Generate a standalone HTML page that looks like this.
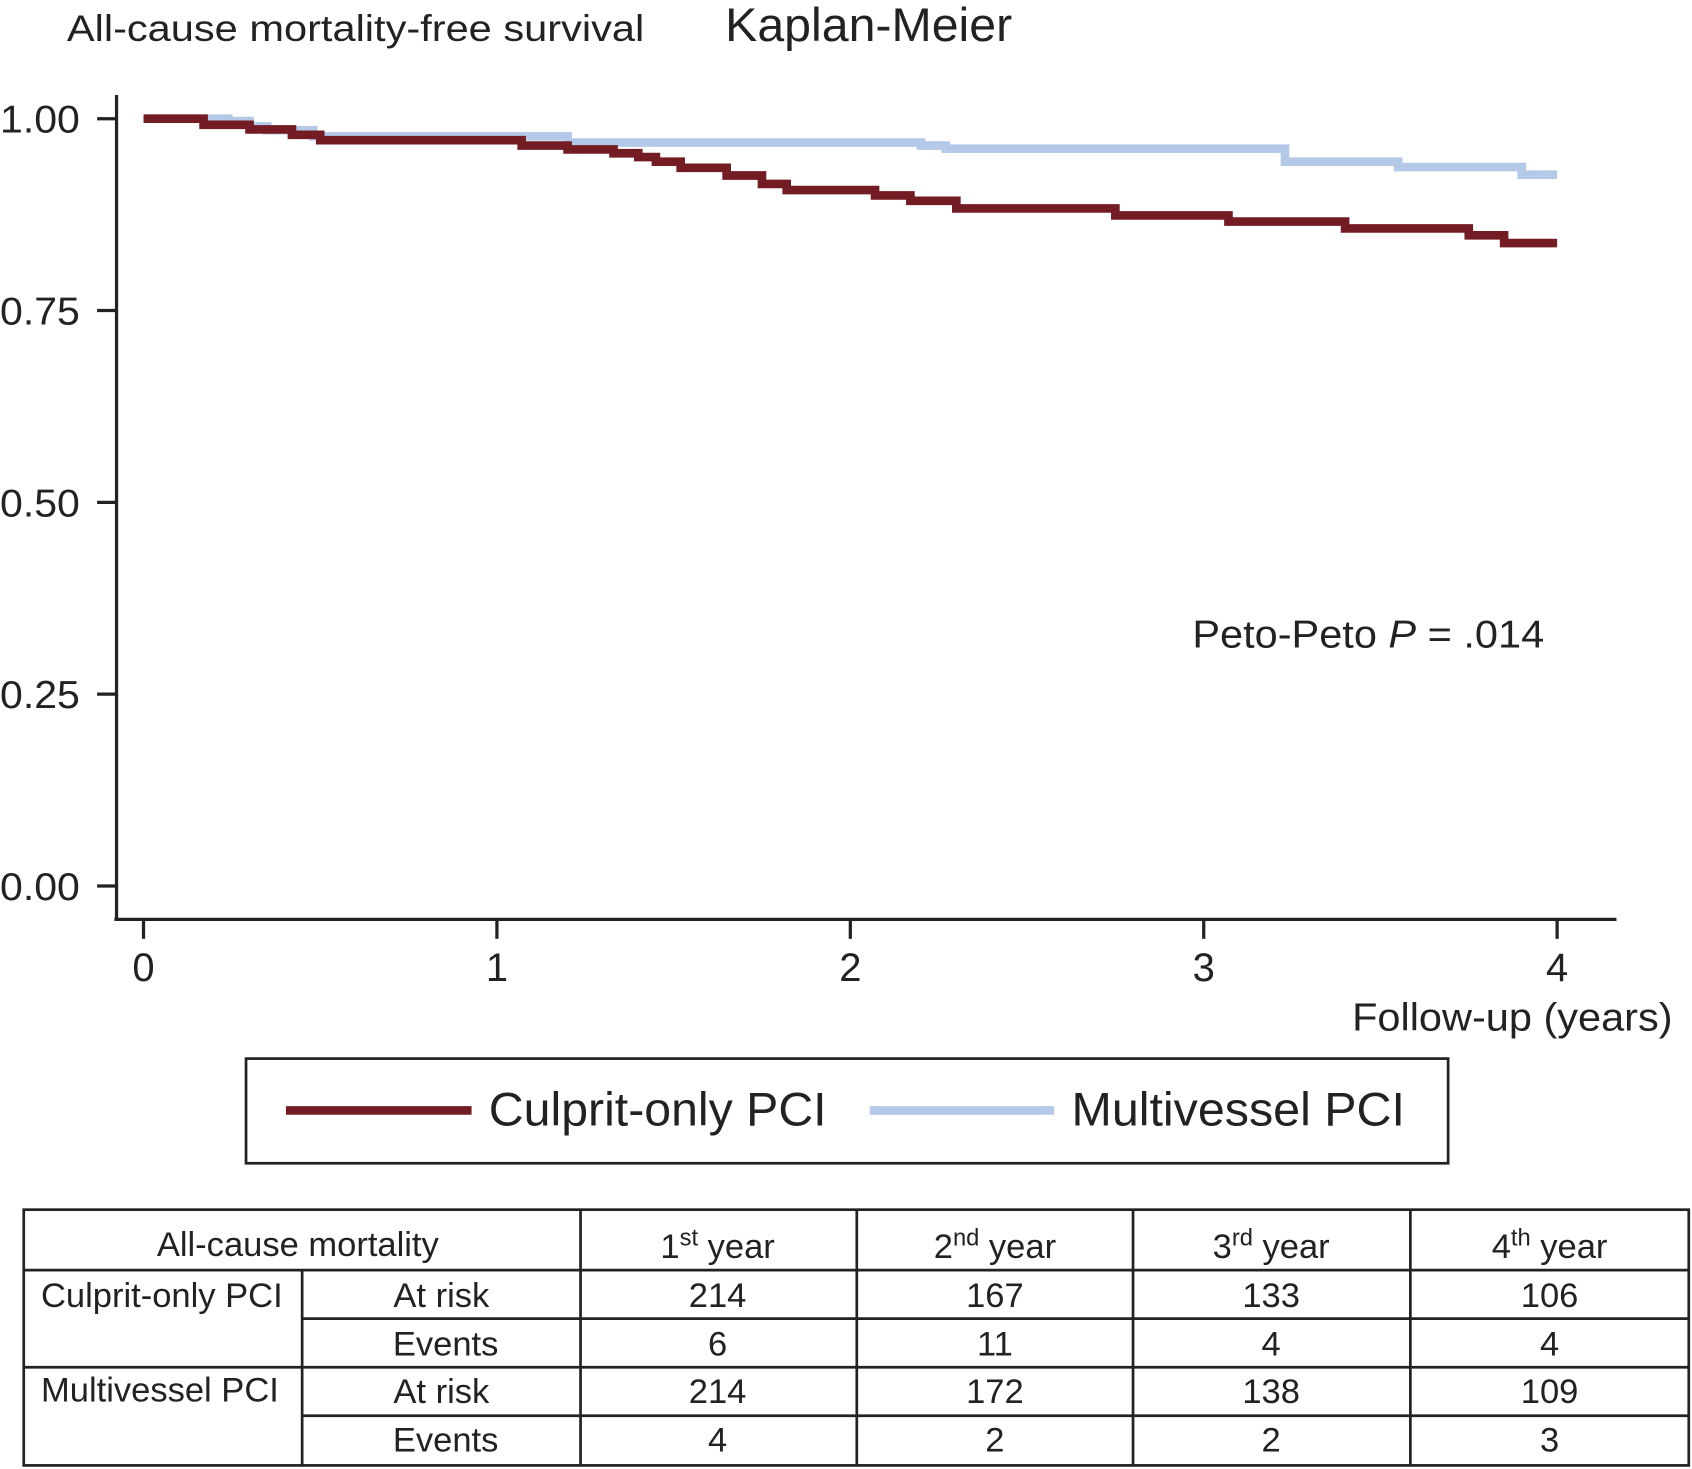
<!DOCTYPE html>
<html><head><meta charset="utf-8"><style>
html,body{margin:0;padding:0;background:#fff;}
svg{display:block;font-family:"Liberation Sans",Arial,sans-serif;}
</style></head><body>
<svg id="chart" width="1692" height="1469" viewBox="0 0 1568 1361.3">
<text x="62" y="38" font-size="34" textLength="535" lengthAdjust="spacingAndGlyphs" fill="#222">All-cause mortality-free survival</text>
<text x="672" y="38" font-size="44" textLength="266" lengthAdjust="spacingAndGlyphs" fill="#222">Kaplan-Meier</text>
<g id="axes"></g>
<g id="series"></g>
<text x="1105" y="600" font-size="36" textLength="326" lengthAdjust="spacingAndGlyphs" fill="#222">Peto-Peto <tspan font-style="italic">P</tspan> = .014</text>
<text x="1253" y="955" font-size="36" textLength="297" lengthAdjust="spacingAndGlyphs" fill="#222">Follow-up (years)</text>
<g>
<rect x="228" y="981" width="1114" height="97" fill="none" stroke="#222" stroke-width="2.5"/>
<line x1="265" y1="1029" x2="437" y2="1029" stroke="#731c24" stroke-width="8"/>
<text x="453" y="1043" font-size="44" textLength="313" lengthAdjust="spacingAndGlyphs" fill="#222">Culprit-only PCI</text>
<line x1="806" y1="1029" x2="977" y2="1029" stroke="#b4c8e8" stroke-width="8"/>
<text x="993" y="1043" font-size="44" textLength="309" lengthAdjust="spacingAndGlyphs" fill="#222">Multivessel PCI</text>
</g>
<g stroke="#222" stroke-width="2.5" fill="none">
<rect x="22" y="1121" width="1543" height="237"/>
<line x1="22" y1="1177" x2="1565" y2="1177"/>
<line x1="280" y1="1222" x2="1565" y2="1222"/>
<line x1="22" y1="1267" x2="1565" y2="1267"/>
<line x1="280" y1="1312" x2="1565" y2="1312"/>
<line x1="280" y1="1177" x2="280" y2="1358"/>
<line x1="538" y1="1121" x2="538" y2="1358"/>
<line x1="794" y1="1121" x2="794" y2="1358"/>
<line x1="1050" y1="1121" x2="1050" y2="1358"/>
<line x1="1307" y1="1121" x2="1307" y2="1358"/>
</g>
<g font-size="32" fill="#222" text-anchor="middle">
<text x="276" y="1164">All-cause mortality</text>
<text x="665" y="1166">1<tspan font-size="22" dy="-12">st</tspan><tspan dy="12"> year</tspan></text>
<text x="922" y="1166">2<tspan font-size="22" dy="-12">nd</tspan><tspan dy="12"> year</tspan></text>
<text x="1178" y="1166">3<tspan font-size="22" dy="-12">rd</tspan><tspan dy="12"> year</tspan></text>
<text x="1436" y="1166">4<tspan font-size="22" dy="-12">th</tspan><tspan dy="12"> year</tspan></text>
<text x="38" y="1211" text-anchor="start">Culprit-only PCI</text>
<text x="38" y="1299" text-anchor="start">Multivessel PCI</text>
<text x="409" y="1211">At risk</text><text x="413" y="1256">Events</text>
<text x="409" y="1300">At risk</text><text x="413" y="1345">Events</text>
<text x="665" y="1211">214</text><text x="922" y="1211">167</text><text x="1178" y="1211">133</text><text x="1436" y="1211">106</text>
<text x="665" y="1256">6</text><text x="922" y="1256">11</text><text x="1178" y="1256">4</text><text x="1436" y="1256">4</text>
<text x="665" y="1300">214</text><text x="922" y="1300">172</text><text x="1178" y="1300">138</text><text x="1436" y="1300">109</text>
<text x="665" y="1345">4</text><text x="922" y="1345">2</text><text x="1178" y="1345">2</text><text x="1436" y="1345">3</text>
</g>
</svg>
<script>
const xTicks = [0, 1, 2, 3, 4];
const yTicks = [0, 0.25, 0.5, 0.75, 1];
const yTickLabels = ["0.00", "0.25", "0.50", "0.75", "1.00"];
const culpritTimes = [0, 0.17, 0.3, 0.42, 0.5, 1.07, 1.2, 1.33, 1.4, 1.45, 1.52, 1.65, 1.75, 1.82, 2.07, 2.17, 2.3, 2.75, 3.07, 3.4, 3.75, 3.85];
const culpritSurv = [1, 0.992, 0.986, 0.979, 0.972, 0.965, 0.96, 0.955, 0.95, 0.944, 0.936, 0.926, 0.915, 0.907, 0.9, 0.893, 0.883, 0.874, 0.866, 0.857, 0.848, 0.838];
const multiTimes = [0, 0.24, 0.3, 0.35, 0.48, 1.2, 2.2, 2.27, 3.23, 3.55, 3.9];
const multiSurv = [1, 0.997, 0.99, 0.985, 0.977, 0.969, 0.965, 0.961, 0.944, 0.937, 0.927];
const endTime = 4;
const NS = "http://www.w3.org/2000/svg";
const X = t => 133 + t * 327.5;
const Y = s => 821 - s * 711;
function mk(tag, attrs, parent) {
  const e = document.createElementNS(NS, tag);
  for (const k in attrs) e.setAttribute(k, attrs[k]);
  parent.appendChild(e);
  return e;
}
const axes = document.getElementById('axes');
const yAxis = mk('line', {x1: 108, y1: 88, x2: 108, y2: 853, stroke: '#222', 'stroke-width': 3}, axes);


const xAxis = mk('line', {x1: 106, y1: 852, x2: 1498, y2: 852, stroke: '#222', 'stroke-width': 3}, axes);


yTicks.forEach((v, i) => {
  const tk = mk('line', {x1: 90, y1: Y(v), x2: 108, y2: Y(v), stroke: '#222', 'stroke-width': 3}, axes);
  
  
  const tl = mk('text', {x: 0, y: Y(v) + 13, 'font-size': 36, fill: '#222', textLength: 74, lengthAdjust: 'spacingAndGlyphs'}, axes);
  tl.textContent = yTickLabels[i];
  
  
});
xTicks.forEach(v => {
  const tk = mk('line', {x1: X(v), y1: 852, x2: X(v), y2: 870, stroke: '#222', 'stroke-width': 3}, axes);
  
  
  const tl = mk('text', {x: X(v), y: 909, 'font-size': 37, fill: '#222', 'text-anchor': 'middle'}, axes);
  tl.textContent = String(v);
  
  
});
function stepPath(ts, ss) {
  let d = 'M' + X(ts[0]) + ',' + Y(ss[0]);
  for (let i = 1; i < ts.length; i++) {
    d += ' H' + X(ts[i]) + ' V' + Y(ss[i]);
  }
  d += ' H' + X(endTime);
  return d;
}
const series = document.getElementById('series');
const pm = mk('path', {d: stepPath(multiTimes, multiSurv), fill: 'none', stroke: '#b4c8e8', 'stroke-width': 8}, series);


const pc = mk('path', {d: stepPath(culpritTimes, culpritSurv), fill: 'none', stroke: '#731c24', 'stroke-width': 8}, series);


</script>
</body></html>
